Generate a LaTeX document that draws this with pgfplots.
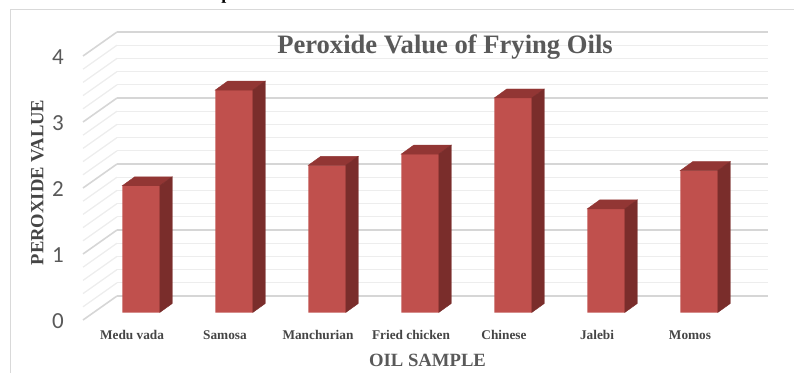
\documentclass[border=0pt]{standalone}
\usepackage{pgfplots}
\pgfplotsset{compat=1.18}
\usepackage{pgfplotstable}
\usepackage{fontspec}
\setmainfont{Liberation Serif}
\newfontfamily\ticksfont{Carlito}

\definecolor{barfront}{HTML}{C0504D}
\definecolor{bartop}{HTML}{923634}
\definecolor{barside}{HTML}{7A2D2B}
\definecolor{txtgray}{HTML}{595959}
\definecolor{catgray}{HTML}{454545}
\definecolor{gridmaj}{HTML}{D6D6D6}
\definecolor{gridmin}{HTML}{EDEDED}
\definecolor{framegray}{HTML}{D9D9D9}

% peroxide value per oil sample
\pgfplotstableread{
idx pv
0 1.92
1 3.37
2 2.23
3 2.40
4 3.25
5 1.57
6 2.15
}\pvtable

% invisible marker: the 3D faces are drawn by the scatter code
\pgfdeclareplotmark{nomark}{}

\begin{document}
\begin{tikzpicture}[x=1pt,y=1pt]
\useasboundingbox (0,0) rectangle (794,372);
\clip (0,0) rectangle (794,372);

% chart area frame
\draw[framegray, line width=1pt] (10.5,-5) -- (10.5,362.5) -- (800,362.5);

% caption fragment above the chart
\node[font=\bfseries\fontsize{18}{18}\selectfont, anchor=base, inner sep=0pt] at (226.5,372) {p};

% side wall: receding gridlines
\foreach \v in {0.2,0.4,0.6,0.8,1.2,1.4,1.6,1.8,2.2,2.4,2.6,2.8,3.2,3.4,3.6,3.8}
  \draw[gridmin, line width=1.3pt] (117,{76+66*\v}) -- ++(-34,-24);
\foreach \v in {0,1,2,3,4}
  \draw[gridmaj, line width=1.6pt] (117,{76+66*\v}) -- ++(-34,-24);

% back wall with value axis
\begin{axis}[
  at={(117pt,76pt)}, anchor=south west,
  x=651pt, y=66pt,
  xmin=0, xmax=1, ymin=0, ymax=4,
  axis line style={draw=none},
  xtick=\empty,
  ytick={0,1,2,3,4},
  minor y tick num=4,
  ymajorgrids, yminorgrids,
  major grid style={gridmaj, line width=1.6pt},
  minor grid style={gridmin, line width=1.3pt},
  major tick length=0pt, minor tick length=0pt,
  /pgf/number format/assume math mode=true,
  yticklabel style={font=\ticksfont\fontsize{23}{23}\selectfont, text=txtgray,
    anchor=center, inner sep=0pt, xshift=-59pt, yshift=-25pt},
  clip=false,
]
\end{axis}

% bars
\begin{axis}[
  at={(94.5pt,59.5pt)}, anchor=south west,
  x=93pt, y=66pt,
  xmin=-0.5, xmax=6.5, ymin=0, ymax=4,
  axis line style={draw=none},
  ytick=\empty,
  xtick=data,
  xticklabels={Medu vada, Samosa, Manchurian, Fried chicken, Chinese, Jalebi, Momos},
  major tick length=0pt,
  xticklabel style={font=\bfseries\fontsize{13.3}{14}\selectfont, text=catgray,
    anchor=base, xshift=-9pt, yshift=-26.5pt},
  clip=false,
]
\addplot[ybar, bar width=37.5pt, bar shift=0pt, fill=barfront, draw=none]
  table[x=idx, y=pv]{\pvtable};
\addplot[only marks, mark=nomark, scatter,
  visualization depends on={\thisrow{pv} \as \barval},
  scatter/@pre marker code/.code={%
    \pgfmathsetmacro\hh{\barval*66}%
    \fill[bartop] (-18.75pt,0pt) -- (18.75pt,0pt) -- (31.25pt,9pt) -- (-6.25pt,9pt) -- cycle;
    \fill[barside] (18.75pt,0pt) -- (31.25pt,9pt) -- (31.25pt,{(9-\hh)*1pt}) -- (18.75pt,{-\hh*1pt}) -- cycle;
  },
  scatter/@post marker code/.code={},
] table[x=idx, y=pv]{\pvtable};
\end{axis}

% titles
\node[font=\bfseries\fontsize{26.6}{28}\selectfont, text=txtgray, anchor=base]
  at (445,318.7) {Peroxide Value of Frying Oils};
\node[font=\bfseries\fontsize{18.7}{20}\selectfont, text=txtgray, anchor=base]
  at (427.5,6) {OIL SAMPLE};
\node[font=\bfseries\fontsize{18.6}{20}\selectfont, text=catgray, anchor=base, rotate=90]
  at (43.3,189.5) {PEROXIDE VALUE};
\end{tikzpicture}
\end{document}
